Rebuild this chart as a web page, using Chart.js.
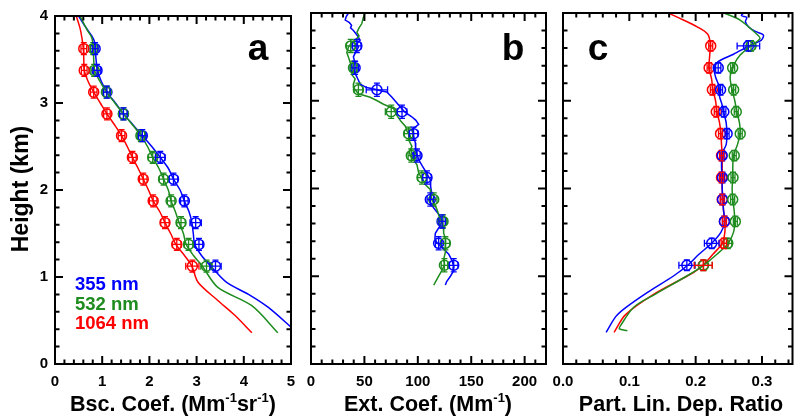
<!DOCTYPE html>
<html>
<head>
<meta charset="utf-8">
<script src="https://cdn.jsdelivr.net/npm/chart.js@4.4.1/dist/chart.umd.min.js"></script>
<style>
  html, body { margin: 0; padding: 0; background: #fff; }
  #wrap { position: relative; width: 799px; height: 420px; overflow: hidden; background: #fff; }
  #wrap canvas { position: absolute; left: 0; top: 0; }
</style>
</head>
<body>
<div id="wrap">
  <canvas id="panelA" width="799" height="420"></canvas>
  <canvas id="panelB" width="799" height="420"></canvas>
  <canvas id="panelC" width="799" height="420"></canvas>
</div>
<script>
// ---- Layer-mean heights (km) of the marked points ----
const layerHeights = [3.625, 3.375, 3.125, 2.875, 2.625, 2.375, 2.125, 1.875, 1.625, 1.375, 1.125];

// ---- Panel a: backscatter coefficient (Mm^-1 sr^-1) ----
const bsc355 = [0.85, 0.89, 1.10, 1.45, 1.85, 2.23, 2.51, 2.74, 2.98, 3.05, 3.40];
const bsc532 = [0.81, 0.83, 1.09, 1.45, 1.82, 2.07, 2.30, 2.46, 2.67, 2.83, 3.21];
const bsc1064 = [0.61, 0.62, 0.82, 1.10, 1.41, 1.64, 1.87, 2.08, 2.33, 2.58, 2.91];
const bsc355Err = [0.06, 0.08, 0.07, 0.08, 0.08, 0.10, 0.09, 0.08, 0.12, 0.08, 0.12];
const bsc532Err = [0.06, 0.07, 0.07, 0.08, 0.08, 0.09, 0.09, 0.08, 0.09, 0.09, 0.12];
const bsc1064Err = [0.06, 0.06, 0.07, 0.07, 0.07, 0.08, 0.08, 0.08, 0.09, 0.09, 0.14];
// profiles as [value, height]
const bsc355Profile = [[0.50,4.00],[0.64,3.88],[0.78,3.77],[0.84,3.70],[0.85,3.625],[0.87,3.50],[0.90,3.375],[0.98,3.25],[1.10,3.125],[1.28,3.00],[1.45,2.875],[1.65,2.75],[1.85,2.625],[2.05,2.50],[2.23,2.375],[2.40,2.25],[2.51,2.125],[2.65,2.00],[2.74,1.875],[2.84,1.75],[2.90,1.625],[2.93,1.50],[2.96,1.375],[3.10,1.25],[3.30,1.125],[3.63,0.94],[4.10,0.80],[4.52,0.65],[5.05,0.40]];
const bsc532Profile = [[0.53,4.00],[0.68,3.84],[0.78,3.75],[0.81,3.625],[0.82,3.50],[0.84,3.375],[0.95,3.25],[1.09,3.125],[1.27,3.00],[1.45,2.875],[1.64,2.75],[1.82,2.625],[1.96,2.50],[2.07,2.375],[2.20,2.25],[2.30,2.125],[2.40,2.00],[2.46,1.875],[2.55,1.75],[2.63,1.625],[2.72,1.50],[2.78,1.375],[2.93,1.25],[3.12,1.125],[3.45,0.88],[4.17,0.67],[4.72,0.36]];
const bsc1064Profile = [[0.45,4.00],[0.53,3.86],[0.57,3.75],[0.60,3.625],[0.61,3.50],[0.62,3.375],[0.70,3.25],[0.82,3.125],[0.96,3.00],[1.10,2.875],[1.26,2.75],[1.41,2.625],[1.53,2.50],[1.64,2.375],[1.76,2.25],[1.87,2.125],[1.98,2.00],[2.08,1.875],[2.22,1.75],[2.33,1.625],[2.45,1.50],[2.56,1.375],[2.74,1.25],[2.90,1.125],[3.03,0.94],[3.45,0.73],[3.81,0.56],[4.17,0.36]];

// ---- Panel b: extinction coefficient (Mm^-1) ----
const ext355 = [42.9, 41.3, 61.7, 85.2, 96.0, 99.2, 108.6, 111.7, 122.7, 119.5, 133.6];
const ext532 = [37.2, 39.8, 44.4, 75.1, 91.4, 93.9, 103.9, 114.9, 123.6, 125.8, 124.9];
const ext355Err = [4, 3, 10, 4.5, 4, 3, 4, 3, 3, 3, 4];
const ext532Err = [4, 3, 4, 5.5, 4, 3, 4, 3, 3, 4, 3];
const ext355Profile = [[35,4.00],[33,3.96],[32,3.92],[36,3.89],[38,3.86],[37,3.83],[39.7,3.80],[43,3.75],[46,3.69],[43,3.65],[44.4,3.61],[42,3.56],[39.7,3.50],[41,3.44],[39.7,3.38],[41,3.32],[43,3.27],[46,3.19],[52,3.15],[60,3.13],[66,3.11],[71,3.10],[75.8,3.04],[80,2.98],[83.6,2.93],[88,2.87],[94,2.82],[98,2.78],[100.8,2.73],[94.5,2.67],[96,2.60],[97.7,2.52],[98,2.44],[100.8,2.33],[104,2.26],[107,2.20],[111.7,2.10],[112,2.02],[113,1.95],[111,1.87],[113,1.81],[116,1.76],[120,1.70],[122.7,1.63],[120,1.56],[116.4,1.49],[116,1.43],[118,1.38],[124,1.31],[129,1.25],[132,1.18],[133.6,1.11],[133,1.05],[130.5,1.00],[127,0.94],[125.8,0.90]];
const ext532Profile = [[50.7,4.00],[49,3.95],[47.6,3.88],[45,3.83],[43,3.78],[45,3.74],[43,3.71],[38,3.66],[35,3.61],[33.5,3.55],[35,3.50],[36.6,3.44],[39.7,3.35],[38,3.30],[41.3,3.25],[40,3.20],[39.7,3.15],[44.4,3.08],[55.4,3.04],[62,3.00],[67.9,2.96],[77.3,2.91],[80.5,2.83],[84,2.77],[88.3,2.71],[90,2.65],[93,2.60],[92,2.54],[94.5,2.48],[92,2.42],[93,2.37],[97,2.31],[99.2,2.27],[100.8,2.18],[103,2.13],[105.4,2.08],[108,2.03],[111.7,1.99],[112,1.93],[113.3,1.87],[116,1.81],[118,1.76],[120,1.68],[122.7,1.61],[124,1.55],[124.2,1.49],[126,1.42],[125.8,1.36],[126,1.28],[124.2,1.19],[125,1.13],[122.7,1.07],[119,0.99],[114.9,0.90]];

// ---- Panel c: particle linear depolarization ratio ----
const dep355 = [0.2795, 0.2340, 0.2375, 0.2425, 0.2474, 0.2400, 0.2405, 0.2405, 0.2434, 0.2242, 0.1867];
const dep532 = [0.2835, 0.2558, 0.2573, 0.2612, 0.2672, 0.2582, 0.2563, 0.2558, 0.2598, 0.2484, 0.2120];
const dep1064 = [0.2227, 0.2203, 0.2252, 0.2311, 0.2375, 0.2390, 0.2390, 0.2400, 0.2434, 0.2425, 0.2114];
const dep355Err = [0.017, 0.004, 0.003, 0.003, 0.003, 0.003, 0.003, 0.003, 0.003, 0.011, 0.012];
const dep532Err = [0.006, 0.003, 0.003, 0.003, 0.003, 0.003, 0.003, 0.003, 0.003, 0.006, 0.013];
const dep1064Err = [0.003, 0.003, 0.003, 0.003, 0.003, 0.003, 0.003, 0.003, 0.003, 0.004, 0.0136];
const dep355Profile = [[0.272,4.00],[0.269,3.97],[0.277,3.95],[0.275,3.90],[0.280,3.84],[0.290,3.79],[0.302,3.75],[0.299,3.69],[0.282,3.63],[0.257,3.53],[0.233,3.44],[0.228,3.36],[0.230,3.27],[0.235,3.17],[0.236,3.05],[0.240,2.95],[0.242,2.875],[0.246,2.75],[0.247,2.625],[0.246,2.50],[0.240,2.40],[0.239,2.25],[0.240,2.125],[0.240,2.00],[0.241,1.875],[0.242,1.75],[0.244,1.625],[0.238,1.50],[0.224,1.375],[0.205,1.25],[0.188,1.125],[0.166,1.00],[0.128,0.82],[0.094,0.64],[0.0795,0.54],[0.065,0.36]];
const dep532Profile = [[0.2425,4.00],[0.267,3.92],[0.292,3.76],[0.297,3.71],[0.284,3.63],[0.267,3.52],[0.257,3.40],[0.252,3.27],[0.255,3.125],[0.259,3.00],[0.262,2.875],[0.266,2.75],[0.267,2.625],[0.263,2.50],[0.257,2.375],[0.256,2.25],[0.256,2.125],[0.255,2.00],[0.256,1.875],[0.258,1.75],[0.259,1.625],[0.257,1.50],[0.249,1.375],[0.232,1.25],[0.212,1.125],[0.186,1.00],[0.140,0.80],[0.107,0.65],[0.087,0.44],[0.085,0.40],[0.097,0.38]];
const dep1064Profile = [[0.1585,4.00],[0.173,3.95],[0.203,3.84],[0.218,3.76],[0.222,3.65],[0.221,3.50],[0.220,3.375],[0.224,3.25],[0.226,3.125],[0.230,3.00],[0.232,2.875],[0.236,2.75],[0.238,2.625],[0.239,2.50],[0.240,2.375],[0.240,2.25],[0.240,2.125],[0.240,2.00],[0.241,1.875],[0.242,1.75],[0.244,1.625],[0.244,1.50],[0.240,1.375],[0.226,1.25],[0.211,1.125],[0.196,1.04],[0.136,0.79],[0.094,0.56],[0.077,0.36]];

// ---- Axis ticks ----
const heightTicks = [0, 1, 2, 3, 4];
const bscTicks = [0, 1, 2, 3, 4, 5];
const extTicks = [0, 50, 100, 150, 200];
const depTicks = [0.0, 0.1, 0.2, 0.3];

const wavelengths = ['355 nm', '532 nm', '1064 nm'];
const COLORS = ['#0000ff', '#1e8c1e', '#ff0000'];
const FONT = '"Liberation Sans", Arial, Helvetica, sans-serif';

function profileDataset(pairs, color, tension) {
  return {
    data: pairs.map(([v, h]) => ({ x: v, y: h })),
    showLine: true, borderColor: color, borderWidth: 1.5, pointRadius: 0,
    tension: tension, fill: false
  };
}
function markerDataset(values, errs, color, yErr) {
  return {
    data: values.map((v, i) => ({ x: v, y: layerHeights[i] })),
    showLine: false, pointStyle: 'circle', pointRadius: 5, borderWidth: 1.5,
    borderColor: color, backgroundColor: 'rgba(0,0,0,0)',
    errX: errs, errY: yErr
  };
}

// error bars drawn through the library's scales
const errorBars = {
  id: 'errorBars',
  afterDatasetsDraw(chart) {
    const { ctx, scales: { x, y } } = chart;
    chart.data.datasets.forEach(ds => {
      if (!ds.errX) return;
      ctx.save();
      ctx.strokeStyle = ds.borderColor; ctx.lineWidth = 1.3;
      ds.data.forEach((p, i) => {
        const px = x.getPixelForValue(p.x), py = y.getPixelForValue(p.y);
        const x0 = x.getPixelForValue(p.x - ds.errX[i]), x1 = x.getPixelForValue(p.x + ds.errX[i]);
        const y0 = y.getPixelForValue(p.y - ds.errY), y1 = y.getPixelForValue(p.y + ds.errY);
        ctx.beginPath();
        ctx.moveTo(x0, py); ctx.lineTo(x1, py);
        ctx.moveTo(x0, py - 3.5); ctx.lineTo(x0, py + 3.5);
        ctx.moveTo(x1, py - 3.5); ctx.lineTo(x1, py + 3.5);
        ctx.moveTo(px, y0); ctx.lineTo(px, y1);
        ctx.moveTo(px - 3, y0); ctx.lineTo(px + 3, y0);
        ctx.moveTo(px - 3, y1); ctx.lineTo(px + 3, y1);
        ctx.stroke();
      });
      ctx.restore();
    });
  }
};

function drawRich(ctx, parts, cx, cy, size) {
  const sup = Math.round(size * 0.62);
  let w = 0;
  parts.forEach(p => { ctx.font = `bold ${p.sup ? sup : size}px ${FONT}`; w += ctx.measureText(p.t).width; });
  let xx = cx - w / 2;
  ctx.textAlign = 'left'; ctx.textBaseline = 'alphabetic';
  parts.forEach(p => {
    ctx.font = `bold ${p.sup ? sup : size}px ${FONT}`;
    ctx.fillText(p.t, xx, cy + size * 0.36 - (p.sup ? size * 0.42 : 0));
    xx += ctx.measureText(p.t).width;
  });
}

// frame with inward ticks on all sides, panel letter, axis titles
const framePlugin = {
  id: 'frame',
  afterDraw(chart, args, o) {
    const { ctx, chartArea: a, scales: { x, y } } = chart;
    ctx.save();
    ctx.strokeStyle = '#000'; ctx.lineWidth = 2;
    ctx.strokeRect(a.left, a.top, a.right - a.left, a.bottom - a.top);
    const drawTicks = (scale, minor, major, horiz) => {
      const n = Math.floor((scale.max - scale.min) / minor + 1e-6);
      for (let k = 0; k <= n; k++) {
        const v = scale.min + k * minor;
        const isMajor = Math.abs(v / major - Math.round(v / major)) < 1e-6;
        const len = isMajor ? 8 : 4.5;
        const p = scale.getPixelForValue(v);
        ctx.beginPath();
        if (horiz) {
          ctx.moveTo(p, a.bottom); ctx.lineTo(p, a.bottom - len);
          ctx.moveTo(p, a.top); ctx.lineTo(p, a.top + len);
        } else {
          ctx.moveTo(a.left, p); ctx.lineTo(a.left + len, p);
          ctx.moveTo(a.right, p); ctx.lineTo(a.right - len, p);
        }
        ctx.stroke();
      }
    };
    drawTicks(x, o.xMinor, o.xMajor, true);
    drawTicks(y, 0.2, 1, false);

    ctx.fillStyle = '#000';
    ctx.font = `bold 37px ${FONT}`;
    ctx.textAlign = 'center'; ctx.textBaseline = 'alphabetic';
    ctx.fillText(o.letter, o.letterX, 60);

    drawRich(ctx, o.title, o.titleX, 403, 21.5);

    if (o.yTitle) {
      ctx.save();
      ctx.translate(22, 189);
      ctx.rotate(-Math.PI / 2);
      ctx.font = `bold 23px ${FONT}`;
      ctx.textAlign = 'center'; ctx.textBaseline = 'middle';
      ctx.fillText(o.yTitle, 0, 0);
      ctx.restore();
    }
    if (o.legend) {
      ctx.font = `bold 18.5px ${FONT}`;
      ctx.textAlign = 'left'; ctx.textBaseline = 'middle';
      wavelengths.forEach((w, i) => {
        ctx.fillStyle = COLORS[i];
        ctx.fillText(w, 75, 285 + i * 19.5);
      });
    }
    ctx.restore();
  }
};

function makePanel(id, cfg) {
  const tickFont = { family: FONT, size: 15, weight: 'bold' };
  return new Chart(document.getElementById(id), {
    type: 'scatter',
    data: { datasets: cfg.datasets },
    options: {
      responsive: false, animation: false, devicePixelRatio: 1,
      layout: { padding: { left: cfg.padLeft, right: 799 - cfg.right, top: 13, bottom: 0 } },
      plugins: { legend: { display: false }, tooltip: { enabled: false }, frame: cfg.frame },
      scales: {
        x: {
          type: 'linear', min: cfg.xMin, max: cfg.xMax,
          grid: { display: false, drawTicks: false }, border: { display: false },
          ticks: { font: tickFont, color: '#000', padding: 9, autoSkip: false, maxRotation: 0,
                   callback: cfg.fmt },
          afterBuildTicks: s => { s.ticks = cfg.xTicks.map(v => ({ value: v })); },
          afterFit: s => { s.height = 56; }
        },
        y: {
          type: 'linear', min: 0, max: 4, display: cfg.showY,
          grid: { display: false, drawTicks: false }, border: { display: false },
          ticks: { font: tickFont, color: '#000', padding: 7, autoSkip: false },
          afterBuildTicks: s => { s.ticks = heightTicks.map(v => ({ value: v })); },
          afterFit: s => { s.width = cfg.showY ? 55 : 0; }
        }
      }
    },
    plugins: [errorBars, framePlugin]
  });
}

makePanel('panelA', {
  padLeft: 0, right: 291, xMin: 0, xMax: 5, xTicks: bscTicks, showY: true,
  fmt: v => String(v),
  datasets: [
    profileDataset(bsc1064Profile, COLORS[2], 0.3),
    profileDataset(bsc532Profile, COLORS[1], 0.3),
    profileDataset(bsc355Profile, COLORS[0], 0.3),
    markerDataset(bsc1064, bsc1064Err, COLORS[2], 0.07),
    markerDataset(bsc532, bsc532Err, COLORS[1], 0.07),
    markerDataset(bsc355, bsc355Err, COLORS[0], 0.07)
  ],
  frame: { xMinor: 0.2, xMajor: 1, letter: 'a', letterX: 258, legend: true, yTitle: 'Height (km)',
           titleX: 173, title: [{ t: 'Bsc. Coef. (Mm' }, { t: '-1', sup: true }, { t: 'sr' }, { t: '-1', sup: true }, { t: ')' }] }
});

makePanel('panelB', {
  padLeft: 311, right: 546, xMin: 0, xMax: 220, xTicks: extTicks, showY: false,
  fmt: v => String(v),
  datasets: [
    profileDataset(ext532Profile, COLORS[1], 0),
    profileDataset(ext355Profile, COLORS[0], 0),
    markerDataset(ext532, ext532Err, COLORS[1], 0.075),
    markerDataset(ext355, ext355Err, COLORS[0], 0.075)
  ],
  frame: { xMinor: 10, xMajor: 50, letter: 'b', letterX: 513,
           titleX: 428, title: [{ t: 'Ext. Coef. (Mm' }, { t: '-1', sup: true }, { t: ')' }] }
});

makePanel('panelC', {
  padLeft: 563, right: 797, xMin: 0, xMax: 0.346, xTicks: depTicks, showY: false,
  fmt: v => v.toFixed(1),
  datasets: [
    profileDataset(dep532Profile, COLORS[1], 0.3),
    profileDataset(dep355Profile, COLORS[0], 0.3),
    profileDataset(dep1064Profile, COLORS[2], 0.3),
    markerDataset(dep532, dep532Err, COLORS[1], 0.06),
    markerDataset(dep355, dep355Err, COLORS[0], 0.06),
    markerDataset(dep1064, dep1064Err, COLORS[2], 0.06)
  ],
  frame: { xMinor: 0.02, xMajor: 0.1, letter: 'c', letterX: 598,
           titleX: 681, title: [{ t: 'Part. Lin. Dep. Ratio' }] }
});
</script>
</body>
</html>
